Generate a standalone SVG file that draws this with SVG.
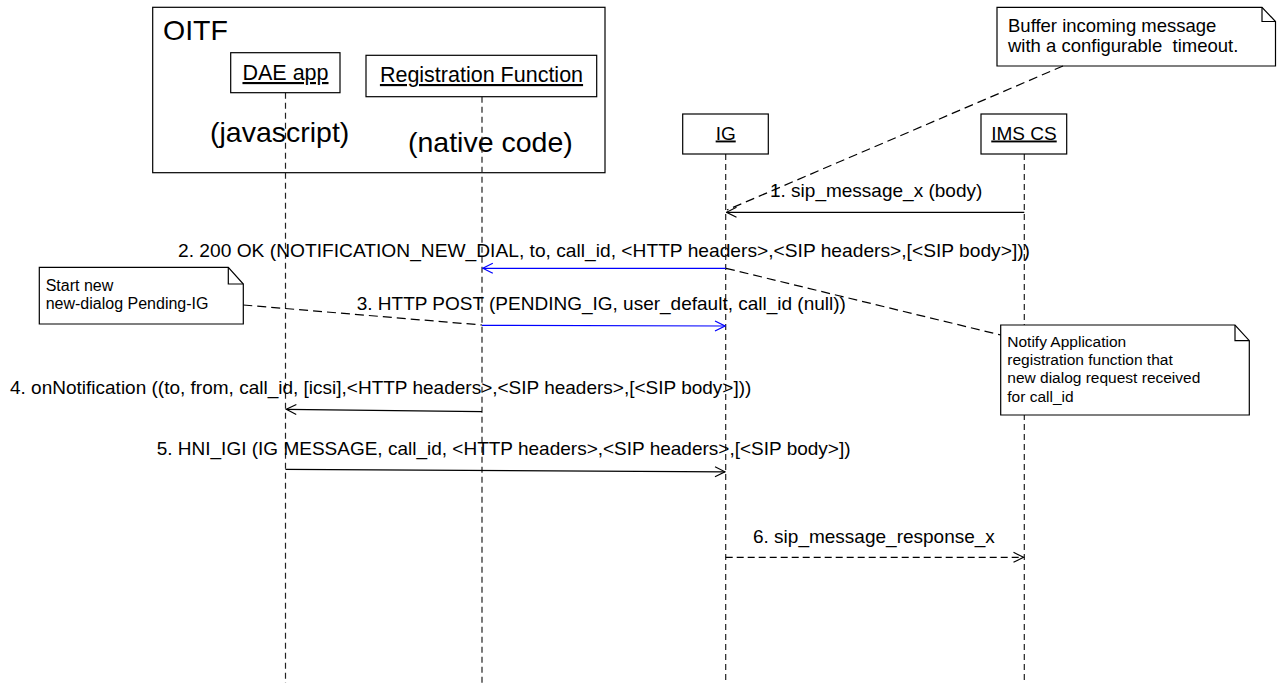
<svg xmlns="http://www.w3.org/2000/svg" width="1277" height="683" viewBox="0 0 1277 683">
<style>
text{font-family:"Liberation Sans",Arial,sans-serif;fill:#000}
.box{fill:#fff;stroke:#000;stroke-width:1.2}
.frame{fill:none;stroke:#000;stroke-width:1.2}
.life{stroke:#222;stroke-width:1.2;stroke-dasharray:6 4;fill:none}
.msg{stroke:#000;stroke-width:1.2;fill:none}
.blue{stroke:#0000ff;stroke-width:1.2;fill:none}
.ret{stroke:#000;stroke-width:1.2;fill:none;stroke-dasharray:7 4}
.anchor{stroke:#000;stroke-width:1.2;fill:none;stroke-dasharray:9 5}
.note{fill:#fff;stroke:#000;stroke-width:1.2}
.u{text-decoration:underline}
.lbl{font-size:19px}
.big{font-size:28.5px}
.nt{font-size:16px}
</style>
<defs>
<marker id="ah" viewBox="0 0 12 12" refX="11" refY="6" markerWidth="12" markerHeight="12" markerUnits="userSpaceOnUse" orient="auto">
<path d="M1,1 L11,6 L1,11" fill="none" stroke="#000" stroke-width="1.2"/>
</marker>
<marker id="ahb" viewBox="0 0 12 12" refX="11" refY="6" markerWidth="12" markerHeight="12" markerUnits="userSpaceOnUse" orient="auto">
<path d="M1,1 L11,6 L1,11" fill="none" stroke="#0000ff" stroke-width="1.2"/>
</marker>
</defs>

<g id="oitf">
<rect class="frame" x="152.7" y="7.3" width="452.3" height="165.4"/>
<text class="big" x="163" y="39.5">OITF</text>
<text class="big" x="210" y="141.5">(javascript)</text>
<text class="big" x="408" y="152">(native code)</text>
</g>

<g id="lifelines">
<line class="life" x1="285.5" y1="92.7" x2="285.5" y2="683"/>
<line class="life" x1="482" y1="96.7" x2="482" y2="683"/>
<line class="life" x1="725.7" y1="154" x2="725.7" y2="683"/>
<line class="life" x1="1024.3" y1="154" x2="1024.3" y2="683"/>
</g>

<g id="dae-app">
<rect class="box" x="230.7" y="52.7" width="109.3" height="40"/>
<text class="u" x="285.5" y="80" font-size="21.5" text-anchor="middle">DAE app</text>
</g>

<g id="registration-function">
<rect class="box" x="366" y="55.3" width="230.7" height="41.4"/>
<text class="u" x="481.5" y="82" font-size="21.5" text-anchor="middle">Registration Function</text>
</g>

<g id="ig">
<rect class="box" x="682.7" y="114" width="85.6" height="40"/>
<text class="u" x="725.7" y="139.5" font-size="19" text-anchor="middle">IG</text>
</g>

<g id="ims-cs">
<rect class="box" x="981" y="114" width="85.7" height="40"/>
<text class="u" x="1024" y="139.5" font-size="19" text-anchor="middle">IMS CS</text>
</g>

<g id="note-buffer">
<path class="note" d="M997,7.3 H1262 L1275.5,21.5 V66 H997 Z"/>
<path class="frame" d="M1262,7.3 V21.5 H1275.5"/>
<text x="1008" y="31.5" font-size="18.5">Buffer incoming message</text>
<text x="1008" y="51.5" font-size="18.5" xml:space="preserve">with a configurable  timeout.</text>
</g>

<g id="note-start">
<path class="note" d="M39.3,267.3 H228.3 L243.3,284 V324 H39.3 Z"/>
<path class="frame" d="M228.3,267.3 V284 H243.3"/>
<text class="nt" x="45.7" y="290.7">Start new</text>
<text class="nt" x="45.7" y="309">new-dialog Pending-IG</text>
</g>

<g id="note-notify">
<path class="note" d="M1000.7,325 H1235 L1249.3,340.7 V415 H1000.7 Z"/>
<path class="frame" d="M1235,325 V340.7 H1249.3"/>
<text x="1007.3" y="346.7" font-size="15.5">Notify Application</text>
<text x="1007.3" y="365" font-size="15.5">registration function that</text>
<text x="1007.3" y="383.3" font-size="15.5">new dialog request received</text>
<text x="1007.3" y="401.7" font-size="15.5">for call_id</text>
</g>

<g id="connectors">
<line class="anchor" x1="1063" y1="66" x2="727" y2="210"/>
<line class="anchor" x1="726" y1="268.3" x2="1000.7" y2="335"/>
<line class="anchor" x1="243.3" y1="305" x2="482" y2="325"/>

<line class="msg" x1="1024.3" y1="212.3" x2="726.5" y2="212.3" marker-end="url(#ah)"/>
<text class="lbl" x="770" y="197">1. sip_message_x (body)</text>

<line class="blue" x1="725.7" y1="268.3" x2="482.8" y2="268.3" marker-end="url(#ahb)"/>
<text class="lbl" x="178" y="256.5" textLength="852" lengthAdjust="spacingAndGlyphs">2. 200 OK (NOTIFICATION_NEW_DIAL, to, call_id, &lt;HTTP headers&gt;,&lt;SIP headers&gt;,[&lt;SIP body&gt;]))</text>

<line class="blue" x1="482" y1="325.3" x2="725" y2="326" marker-end="url(#ahb)"/>
<text class="lbl" x="356.7" y="310">3. HTTP POST (PENDING_IG, user_default, call_id (null))</text>

<line class="msg" x1="482" y1="411.7" x2="286.3" y2="409.3" marker-end="url(#ah)"/>
<text class="lbl" x="10" y="394">4. onNotification ((to, from, call_id, [icsi],&lt;HTTP headers&gt;,&lt;SIP headers&gt;,[&lt;SIP body&gt;]))</text>

<line class="msg" x1="285.5" y1="469.3" x2="725" y2="471.8" marker-end="url(#ah)"/>
<text class="lbl" x="156.7" y="455">5. HNI_IGI (IG MESSAGE, call_id, &lt;HTTP headers&gt;,&lt;SIP headers&gt;,[&lt;SIP body&gt;])</text>

<line class="ret" x1="725.7" y1="557.3" x2="1023.5" y2="557.3" marker-end="url(#ah)"/>
<text class="lbl" x="753" y="543.3">6. sip_message_response_x</text>
</g>
</svg>
